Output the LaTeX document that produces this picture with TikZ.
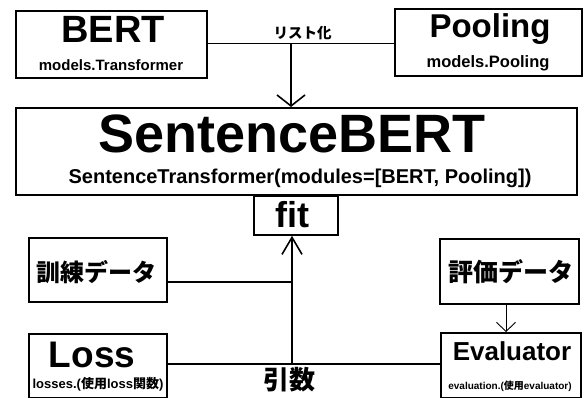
\documentclass[tikz,border=0pt]{standalone}
\usepackage{fontspec}
\setmainfont{Liberation Sans}
\newfontfamily\jp{Noto Sans CJK JP}
\usetikzlibrary{arrows.meta}
\newcommand{\fs}[1]{\fontsize{#1}{#1}\selectfont}
\begin{document}
\begin{tikzpicture}[x=1pt,y=-1pt,
  box/.style={draw, line width=1.8pt, inner sep=0pt, anchor=north west},
  lbl/.style={inner sep=0pt, anchor=base, font=\bfseries},
  jlbl/.style={inner sep=0pt, anchor=center},
  conn/.style={line width=1.8pt},
  thinconn/.style={line width=1.1pt},
  arr/.style={line width=1.8pt, -{Straight Barb[length=11pt,width=28pt,line width=1.6pt]}},
  arrfit/.style={line width=1.8pt, -{Straight Barb[length=17pt,width=20pt,line width=1.6pt]}},
  arrsmall/.style={line width=0.9pt, -{Straight Barb[length=9pt,width=19pt,line width=0.9pt]}}
]
\useasboundingbox[fill=white] (0,0) rectangle (585,398);

% boxes
\node[box, minimum width=191pt, minimum height=67pt] (bert) at (15,10) {};
\node[box, minimum width=187pt, minimum height=67pt] (pool) at (394,8) {};
\node[box, minimum width=561pt, minimum height=87pt] (sbert) at (15,107) {};
\node[box, minimum width=84pt, minimum height=39pt] (fit) at (253,195) {};
\node[box, minimum width=138pt, minimum height=64pt] (train) at (28,237) {};
\node[box, minimum width=138pt, minimum height=64pt] (loss) at (28,333) {};
\node[box, minimum width=139pt, minimum height=65pt] (evdata) at (439,238) {};
\node[box, minimum width=140pt, minimum height=65pt] (evaluator) at (440,332) {};

% texts
\node[lbl, font=\bfseries\fs{38}] (bertT) at (113,43) {BERT};
\node[lbl, font=\bfseries\fs{15}] (bertS) at (111,71) {models.Transformer};
\node[lbl, font=\bfseries\fs{33}] (poolT) at (490,38) {Pooling};
\node[lbl, font=\bfseries\fs{16.5}] (poolS) at (488,68) {models.Pooling};
\node[lbl, font=\bfseries\fs{54}] (sbertT) at (292,153) {SentenceBERT};
\node[lbl, font=\bfseries\fs{20}] (sbertS) at (300,183) {SentenceTransformer(modules=[BERT, Pooling])};
\node[lbl, font=\bfseries\fs{36}] (fitT) at (292.5,227) {fit};
\node[jlbl, font=\jp\bfseries\fs{24}] (trainT) at (96,272) {訓練データ};
\node[lbl, font=\bfseries\fs{37}] (lossT) at (92,367) {Loss};
\node[lbl, font=\bfseries\fs{13}] (lossS) at (98,388) {losses.({\jp\bfseries 使用}loss{\jp\bfseries 関数})};
\node[jlbl, font=\jp\bfseries\fs{25}] (evdataT) at (511,272) {評価データ};
\node[lbl, font=\bfseries\fs{26}] (evalT) at (512,360) {Evaluator};
\node[lbl, font=\bfseries\fs{10}] (evalS) at (510,389) {evaluation.({\jp\bfseries 使用}evaluator)};
\node[jlbl, font=\jp\bfseries\fs{14.5}] (listT) at (302.5,33) {リスト化};
\node[jlbl, font=\jp\bfseries\fs{26}] (argT) at (289,380) {引数};

% connectors
\coordinate (merge) at (291,43.5);
\draw[conn] (bert.east |- merge) -- (pool.west |- merge);
\draw[arr] (merge) -- (sbert.north -| merge);

\coordinate (argj) at (292,364);
\coordinate (tj) at (292,282);
\draw[conn] (loss.east |- argj) -- (evaluator.west |- argj);
\draw[arrfit] (argj) -- (fit.south -| argj);
\draw[thinconn] (train.east |- tj) -- (tj);

\coordinate (ej) at (506,0);
\draw[arrsmall] (evdata.south -| ej) -- (evaluator.north -| ej);
\end{tikzpicture}
\end{document}
